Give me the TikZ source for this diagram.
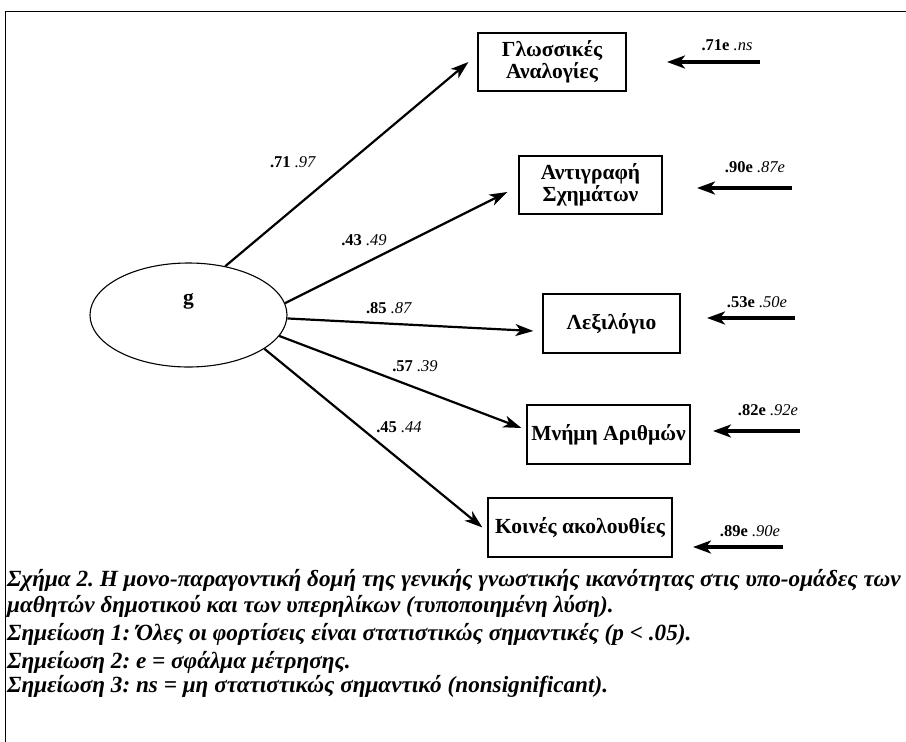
\documentclass[tikz,border=0pt]{standalone}
\usepackage{fontspec}
\setmainfont{Liberation Serif}
\usetikzlibrary{arrows.meta,shapes.geometric,positioning}
\frenchspacing

\tikzset{
  obsbox/.style={draw,line width=1.2pt,inner sep=0pt,align=center,font=\bfseries\fontsize{21.5}{22}\selectfont},
  load/.style={line width=2.2pt,-{Stealth[length=18pt,width=12pt,inset=5pt]}},
  err/.style={line width=3.2pt,-{Stealth[length=18pt,width=13pt,inset=5pt]}},
  coef/.style={inner sep=0pt,font=\fontsize{16.5}{18}\selectfont},
  captxt/.style={anchor=west,inner sep=0pt,font=\bfseries\itshape\fontsize{23.2}{24}\selectfont}
}

\begin{document}
\begin{tikzpicture}[x=1pt,y=-1pt]
  \useasboundingbox (0,0) rectangle (906,742);
  % frame
  \draw[line width=1.5pt] (5.5,742) -- (5.5,11.5) -- (906,11.5);
  % factor
  \node[ellipse,draw,line width=1.1pt,minimum width=197pt,minimum height=104pt,
        label={[yshift=14pt,font=\bfseries\fontsize{21.5}{22}\selectfont]center:g}] (g) at (188.5,315) {};
  % tests
  \node[obsbox,minimum width=148pt,minimum height=58pt] (b1) at (552,62) {Γλωσσικές\\Αναλογίες};
  \node[obsbox,minimum width=143pt,minimum height=58pt] (b2) at (590.5,185) {Αντιγραφή\\Σχημάτων};
  \node[obsbox,minimum width=137pt,minimum height=59pt] (b3) at (611.5,323.5) {Λεξιλόγιο};
  \node[obsbox,minimum width=163pt,minimum height=59pt] (b4) at (608.5,434.5) {Μνήμη Αριθμών};
  \node[obsbox,minimum width=184pt,minimum height=59pt] (b5) at (580,527.5) {Κοινές ακολουθίες};
  % loadings
  \draw[load] (g.53) -- ([shift={(-9,0)}]b1.west);
  \draw[load] (g.7) -- ([shift={(-11,7)}]b2.west);
  \draw[load] (g.-2) -- ([shift={(-9,7.5)}]b3.west);
  \draw[load] (g.-13) -- ([shift={(-5,-6.5)}]b4.west);
  \draw[load] (g.-24.5) -- ([shift={(-5,0)}]b5.west);
  \node[coef] (c1) at (293,162) {\textbf{.71} \textit{.97}};
  \node[coef] (c2) at (364,240) {\textbf{.43} \textit{.49}};
  \node[coef] (c3) at (389,308) {\textbf{.85} \textit{.87}};
  \node[coef] (c4) at (415,366) {\textbf{.57} \textit{.39}};
  \node[coef] (c5) at (399,427) {\textbf{.45} \textit{.44}};
  % errors
  \coordinate (e1a) at (760,62);  \coordinate (e1b) at (667,62);
  \coordinate (e2a) at (792,188); \coordinate (e2b) at (697,188);
  \coordinate (e3a) at (795,318); \coordinate (e3b) at (707,318);
  \coordinate (e4a) at (800,431); \coordinate (e4b) at (713,431);
  \coordinate (e5a) at (783,547); \coordinate (e5b) at (693,547);
  \draw[err] (e1a) -- (e1b);
  \draw[err] (e2a) -- (e2b);
  \draw[err] (e3a) -- (e3b);
  \draw[err] (e4a) -- (e4b);
  \draw[err] (e5a) -- (e5b);
  \node[coef] (r1) at (727,45) {\textbf{.71e} \textit{.ns}};
  \node[coef] (r2) at (755,167) {\textbf{.90e} \textit{.87e}};
  \node[coef] (r3) at (757,302) {\textbf{.53e} \textit{.50e}};
  \node[coef] (r4) at (768,410) {\textbf{.82e} \textit{.92e}};
  \node[coef] (r5) at (750,531) {\textbf{.89e} \textit{.90e}};
  % caption
  \node[captxt] (cap1) at (7,580) {Σχήμα 2. Η μονο-παραγοντική δομή της γενικής γνωστικής ικανότητας στις υπο-ομάδες των};
  \node[captxt] (cap2) at (7,606) {μαθητών δημοτικού και των υπερηλίκων (τυποποιημένη λύση).};
  \node[captxt] (cap3) at (7,634) {Σημείωση 1: Όλες οι φορτίσεις είναι στατιστικώς σημαντικές (p < .05).};
  \node[captxt] (cap4) at (7,662) {Σημείωση 2: e = σφάλμα μέτρησης.};
  \node[captxt] (cap5) at (7,686) {Σημείωση 3: ns = μη στατιστικώς σημαντικό (nonsignificant).};
\end{tikzpicture}
\end{document}
